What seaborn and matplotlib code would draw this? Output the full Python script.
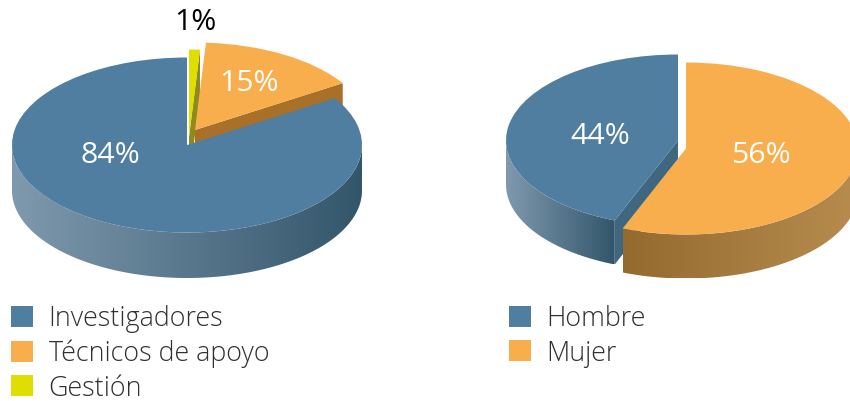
import numpy as np
import matplotlib
matplotlib.use('Agg')
import matplotlib.pyplot as plt
import seaborn as sns

staff_labels = ['Investigadores', 'Técnicos de apoyo', 'Gestión']
staff_values = [84, 15, 1]
gender_labels = ['Hombre', 'Mujer']
gender_values = [44, 56]

BLUE = '#4f7ea0'
ORANGE = '#f9ae4e'
YELLOW = '#e0dd00'
HEIGHT = 402

sns.set_theme(style='white')
plt.rcParams['font.family'] = ['Open Sans', 'DejaVu Sans']


def py(y):
    # y in picture pixels -> data units, the data is stretched 2x so circles squash
    return (HEIGHT - y) * 2


def draw_wall(ax, wedge, ramp, depth, z):
    cx, cy = wedge.center
    for lo, hi in [(180, 360), (540, 720)]:
        t1, t2 = max(wedge.theta1, lo), min(wedge.theta2, hi)
        if t2 <= t1:
            continue
        t = np.radians(np.linspace(t1, t2, 200))
        xs = cx + wedge.r * np.cos(t)
        ys = cy + wedge.r * np.sin(t)
        pts = np.r_[np.c_[xs, ys], np.c_[xs, ys - depth * 2][::-1]]
        poly = plt.Polygon(pts, closed=True, fc='none', ec='none', zorder=z)
        ax.add_patch(poly)
        cmap = sns.blend_palette(ramp, as_cmap=True)
        im = ax.imshow(np.linspace(0, 1, 256)[None, :], cmap=cmap, aspect='auto', zorder=z,
                       extent=(xs.min(), xs.max(), ys.min() - depth * 2, ys.max()))
        im.set_clip_path(poly)


def draw_faces(ax, wedge, colour, depth, z):
    cx, cy = wedge.center
    # cut edges only show when they face the viewer
    for theta, normal in [(wedge.theta1, wedge.theta1 - 90), (wedge.theta2, wedge.theta2 + 90)]:
        if np.sin(np.radians(normal)) > -0.01:
            continue
        rx = cx + wedge.r * np.cos(np.radians(theta))
        ry = cy + wedge.r * np.sin(np.radians(theta))
        d = depth * 2
        ax.add_patch(plt.Polygon([(cx, cy), (rx, ry), (rx, ry - d), (cx, cy - d)],
                                 closed=True, fc=colour, ec='none', zorder=z))


def draw_pie(ax, values, colors, centers, radius, depth, walls, faces, order, text_pos, text_colors, xlim):
    wedges, _, pcts = ax.pie(values, colors=colors, startangle=90, radius=radius,
                             autopct='%1.0f%%', wedgeprops={'linewidth': 0},
                             textprops={'fontsize': 21.8})
    ax.set_aspect('auto')
    for w, c in zip(wedges, centers):
        w.set_center((c[0], py(c[1])))
    for i in order:
        z = 2 + order.index(i) * 3
        w = wedges[i]
        if faces[i]:
            draw_faces(ax, w, faces[i], depth, z)
        if walls[i]:
            draw_wall(ax, w, walls[i], depth, z + 1)
        w.set_zorder(z + 2)
    for t, p, c in zip(pcts, text_pos, text_colors):
        t.set_position((p[0], py(p[1])))
        t.set_color(c)
        t.set_zorder(30)
    ax.set_xlim(*xlim)
    ax.set_ylim(0, HEIGHT * 2)
    ax.axis('off')
    return wedges


def draw_legend(ax, wedges, labels, x, y):
    ax.legend(wedges, labels, loc='upper left', bbox_to_anchor=(x, py(y)), bbox_transform=ax.transData,
              frameon=False, borderpad=0, borderaxespad=0,
              handlelength=0.82, handleheight=0.82, handletextpad=0.58, labelspacing=0.24,
              labelcolor='#303030', prop={'family': ['Open Sans', 'DejaVu Sans'], 'size': 19.4, 'weight': 'light'})


fig = plt.figure(figsize=(8.5, 4.02), dpi=100)
ax1 = fig.add_axes([0, 0, 0.5, 1])
ax2 = fig.add_axes([0.5, 0, 0.5, 1])

w1 = draw_pie(ax1, staff_values, [BLUE, ORANGE, YELLOW],
              centers=[(187, 146), (195, 131), (189, 138)], radius=175, depth=45.5,
              walls=[['#7f99ae', '#33566b'], None, None],
              faces=[None, '#a87028', '#8f8a1e'], order=[2, 1, 0],
              text_pos=[(110.5, 156), (249, 83.5), (195, 22)],
              text_colors=['white', 'white', 'black'], xlim=(0, 425))
draw_legend(ax1, w1, staff_labels, 11, 305.5)

w2 = draw_pie(ax2, gender_values, [BLUE, ORANGE],
              centers=[(678, 141.5), (686, 149.5)], radius=172, depth=44,
              walls=[['#7f99ae', '#33566b'], ['#946a2f', '#b88c4f']],
              faces=['#3f6880', None], order=[0, 1],
              text_pos=[(600, 136), (761, 156)],
              text_colors=['white', 'white'], xlim=(425, 850))
draw_legend(ax2, w2, gender_labels, 509, 305.5)

fig.savefig('out.png', dpi=100)
